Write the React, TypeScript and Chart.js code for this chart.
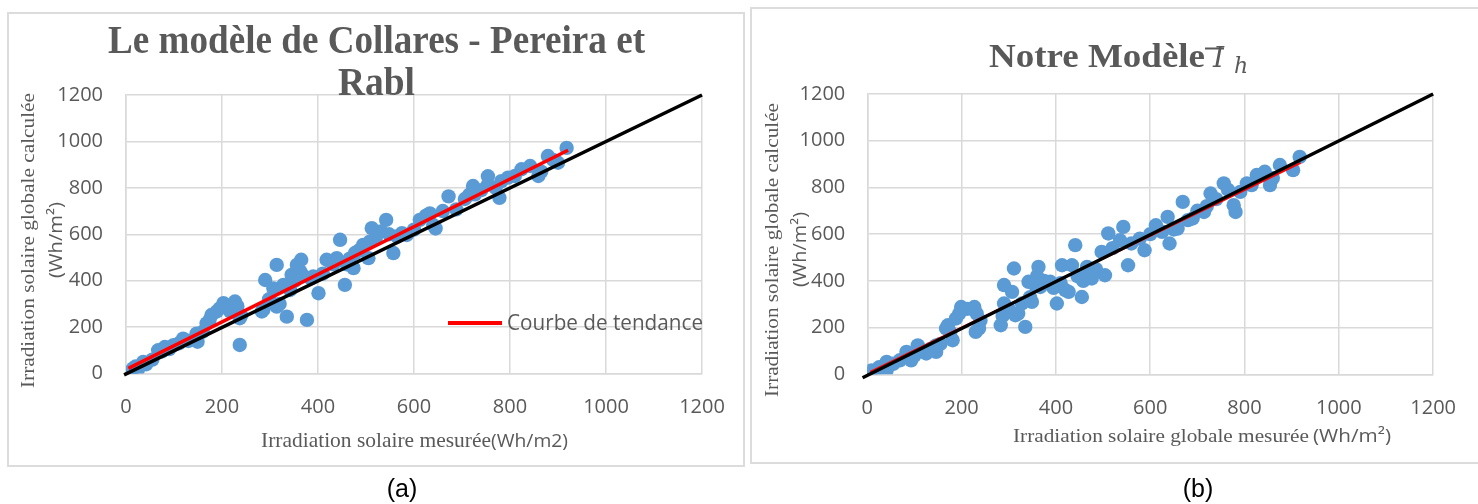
import React, { useEffect, useRef } from 'react';
import { Chart, registerables } from 'chart.js';

Chart.register(...registerables);

// ---------- Data ----------
const axisTicks = [0, 200, 400, 600, 800, 1000, 1200];

// Panel (a) : Collares-Pereira & Rabl
const measuredA = [8, 12, 15, 20, 25, 36, 42, 55, 67, 75, 81, 90, 99, 110, 119, 130, 147, 149, 160, 168, 174, 178, 189, 195, 203, 217, 227, 232, 237, 240, 237, 283, 286, 290, 298, 307, 314, 314, 320, 328, 335, 342, 345, 352, 356, 363, 365, 370, 377, 385, 390, 401, 410, 418, 425, 432, 439, 446, 456, 460, 466, 474, 477, 485, 494, 505, 508, 512, 520, 531, 542, 548, 557, 565, 575, 585, 600, 612, 625, 633, 640, 645, 660, 672, 688, 706, 715, 723, 727, 740, 754, 754, 770, 778, 782, 796, 810, 824, 842, 859, 865, 879, 890, 900, 918];
const calculatedA = [5, 12, 22, 30, 18, 50, 40, 60, 100, 95, 114, 105, 122, 130, 150, 140, 172, 137, 180, 216, 230, 252, 267, 280, 303, 267, 310, 290, 238, 250, 123, 267, 275, 403, 320, 367, 468, 288, 300, 382, 245, 360, 425, 400, 468, 440, 490, 420, 231, 410, 418, 346, 430, 490, 483, 470, 497, 576, 382, 470, 495, 454, 519, 530, 554, 497, 568, 626, 580, 612, 662, 600, 519, 590, 605, 597, 620, 662, 680, 690, 640, 625, 700, 763, 707, 752, 770, 808, 772, 790, 850, 814, 800, 757, 829, 844, 851, 880, 894, 851, 870, 937, 920, 908, 972];
const trendAx = [5, 921];
const trendAy = [22, 962];
const identityAx = [-4, 1200];
const identityAy = [-6, 1200];

// Panel (b) : Notre modèle
const measuredB = [6, 9, 15, 25, 41, 41, 55, 69, 83, 93, 100, 107, 115, 125, 135, 146, 146, 155, 167, 171, 176, 181, 188, 195, 199, 212, 227, 230, 237, 232, 240, 283, 287, 290, 290, 300, 307, 311, 314, 320, 328, 335, 342, 345, 349, 356, 360, 363, 367, 375, 388, 395, 402, 410, 413, 420, 427, 434, 441, 446, 455, 458, 466, 470, 476, 485, 497, 504, 511, 520, 536, 543, 553, 560, 578, 588, 600, 612, 625, 637, 641, 650, 658, 669, 680, 690, 700, 714, 720, 728, 740, 756, 765, 777, 781, 791, 805, 815, 826, 843, 854, 860, 875, 903, 917];
const calculatedB = [3, 17, 10, 30, 53, 17, 45, 60, 96, 60, 80, 124, 100, 89, 110, 96, 124, 130, 196, 210, 180, 146, 239, 260, 288, 280, 288, 182, 196, 260, 230, 210, 250, 382, 303, 280, 353, 453, 253, 260, 303, 203, 396, 330, 310, 382, 420, 460, 374, 400, 396, 370, 303, 390, 467, 360, 353, 467, 553, 420, 331, 400, 460, 430, 410, 450, 524, 424, 603, 540, 574, 631, 467, 560, 581, 531, 600, 638, 610, 674, 560, 620, 624, 738, 660, 667, 700, 695, 720, 774, 750, 817, 790, 724, 695, 781, 817, 810, 853, 867, 810, 840, 896, 874, 931];
const trendBx = [6, 919];
const trendBy = [10, 905];
const identityBx = [-10, 1200];
const identityBy = [-15, 1200];

// ---------- Styling ----------
const GRAY_TEXT = '#595959';
const GRID = '#d9d9d9';
const POINT = '#5b9bd5';
const W = 1478;
const H = 504;

const zip = (xs: number[], ys: number[]) => xs.map((x, i) => ({ x, y: ys[i] }));

const textPlugin = {
  id: 'freeTexts',
  afterDraw(chart: any, _args: any, opts: any) {
    const ctx = chart.ctx;
    (opts.items || []).forEach((t: any) => {
      ctx.save();
      ctx.font = t.font;
      ctx.fillStyle = t.color || GRAY_TEXT;
      ctx.textBaseline = 'alphabetic';
      ctx.textAlign = 'left';
      ctx.translate(t.x, t.y);
      if (t.rotate) ctx.rotate(t.rotate);
      const w = ctx.measureText(t.text).width;
      const sx = t.width ? t.width / w : 1;
      ctx.scale(sx, 1);
      ctx.fillText(t.text, 0, 0);
      ctx.restore();
    });
    (opts.lines || []).forEach((l: any) => {
      ctx.save();
      ctx.strokeStyle = l.color;
      ctx.lineWidth = l.width;
      ctx.beginPath();
      ctx.moveTo(l.x1, l.y1);
      ctx.lineTo(l.x2, l.y2);
      ctx.stroke();
      ctx.restore();
    });
  },
};

function makeConfig(p: any) {
  const yW = 90;
  const xH = 40;
  const tickFont = { family: 'Open Sans', size: 20 };
  return {
    type: 'scatter',
    data: {
      datasets: [
        {
          label: 'identity',
          data: zip(p.idx, p.idy),
          showLine: true,
          borderColor: '#000000',
          borderWidth: 3.5,
          pointRadius: 0,
          clip: false,
          order: 0,
        },
        {
          label: 'Courbe de tendance',
          data: zip(p.tx, p.ty),
          showLine: true,
          borderColor: '#ff0000',
          borderWidth: p.trendWidth,
          pointRadius: 0,
          order: 1,
        },
        {
          label: 'points',
          data: zip(p.xs, p.ys),
          backgroundColor: POINT,
          borderColor: POINT,
          borderWidth: 0,
          pointRadius: 7.2,
          order: 2,
        },
      ],
    },
    options: {
      responsive: false,
      animation: false,
      events: [],
      layout: {
        padding: {
          left: p.left - yW,
          right: W - p.right,
          top: p.top,
          bottom: H - p.bottom - xH,
        },
      },
      plugins: {
        legend: { display: false },
        tooltip: { enabled: false },
        title: { display: false },
        freeTexts: { items: p.texts, lines: p.lines },
      },
      scales: {
        x: {
          type: 'linear',
          min: 0,
          max: 1200,
          afterFit: (s: any) => { s.height = xH; },
          afterBuildTicks: (s: any) => { s.ticks = axisTicks.map((v) => ({ value: v })); },
          grid: { color: GRID, lineWidth: 1.5, drawTicks: false },
          border: { color: GRID, width: 1.5 },
          ticks: { color: GRAY_TEXT, font: tickFont, padding: 22, callback: (v: any) => String(v) },
        },
        y: {
          type: 'linear',
          min: 0,
          max: 1200,
          afterFit: (s: any) => { s.width = yW; },
          afterBuildTicks: (s: any) => { s.ticks = axisTicks.map((v) => ({ value: v })); },
          grid: { color: GRID, lineWidth: 1.5, drawTicks: false },
          border: { color: GRID, width: 1.5 },
          ticks: { color: GRAY_TEXT, font: tickFont, padding: p.yPad, callback: (v: any) => String(v) },
        },
      },
    },
    plugins: [textPlugin],
  };
}

const R90 = -Math.PI / 2;

const configA = makeConfig({
  left: 126, right: 702, top: 95, bottom: 373.5, yPad: 23, trendWidth: 3.5,
  xs: measuredA, ys: calculatedA, tx: trendAx, ty: trendAy, idx: identityAx, idy: identityAy,
  texts: [
    { text: 'Le modèle de Collares - Pereira et', x: 108, y: 52.7, width: 537, font: 'bold 39px "Liberation Serif"' },
    { text: 'Rabl', x: 338, y: 95, width: 77, font: 'bold 39px "Liberation Serif"' },
    { text: 'Irradiation solaire globale calculée', x: 34, y: 388, width: 295, rotate: R90, font: '18px "Liberation Serif"' },
    { text: '(Wh/m²)', x: 62, y: 278, width: 76, rotate: R90, font: '18px "Open Sans"' },
    { text: 'Irradiation solaire mesurée', x: 261, y: 447, width: 230, font: '21px "Liberation Serif"' },
    { text: '(Wh/m2)', x: 491, y: 447, width: 77, font: '19px "Open Sans"' },
    { text: 'Courbe de tendance', x: 507, y: 330, width: 196, font: '21px "Open Sans"' },
  ],
  lines: [{ x1: 448, y1: 323, x2: 502, y2: 323, color: '#ff0000', width: 4 }],
});

const configB = makeConfig({
  left: 867.3, right: 1437.3, top: 94, bottom: 374.3, yPad: 22, trendWidth: 2,
  xs: measuredB, ys: calculatedB, tx: trendBx, ty: trendBy, idx: identityBx, idy: identityBy,
  texts: [
    { text: 'Notre Modèle', x: 989, y: 66.7, width: 216, font: 'bold 33px "Liberation Serif"' },
    { text: 'I', x: 1213, y: 66.5, font: 'italic 28px "DejaVu Serif"' },
    { text: 'h', x: 1234, y: 73.3, font: 'italic 22px "DejaVu Serif"' },
    { text: 'Irradiation solaire globale calculée', x: 778, y: 397, width: 294, rotate: R90, font: '18px "Liberation Serif"' },
    { text: '(Wh/m²)', x: 806, y: 287, width: 75, rotate: R90, font: '18px "Open Sans"' },
    { text: 'Irradiation solaire globale mesurée', x: 1013, y: 442, width: 296, font: '19px "Liberation Serif"' },
    { text: '(Wh/m²)', x: 1313, y: 442, width: 78, font: '18px "Open Sans"' },
  ],
  lines: [{ x1: 1205, y1: 48.5, x2: 1224, y2: 48.5, color: GRAY_TEXT, width: 2 }],
});

function ChartCanvas({ config }: { config: any }) {
  const ref = useRef<HTMLCanvasElement | null>(null);
  useEffect(() => {
    if (!ref.current) return;
    const chart = new Chart(ref.current, config);
    return () => chart.destroy();
  }, [config]);
  return (
    <canvas
      ref={ref}
      width={W}
      height={H}
      style={{ position: 'absolute', left: 0, top: 0, width: W, height: H }}
    />
  );
}

export default function App() {
  return (
    <div style={{ position: 'fixed', left: 0, top: 0, width: W, height: H, background: '#ffffff', overflow: 'hidden' }}>
      <div style={{ position: 'absolute', left: 7, top: 12, width: 734, height: 451, border: '2px solid #dcdcdc' }} />
      <div style={{ position: 'absolute', left: 750, top: 7, width: 740, height: 453, border: '2px solid #dcdcdc' }} />
      <ChartCanvas config={configA} />
      <ChartCanvas config={configB} />
      <div style={{ position: 'absolute', left: 402, top: 474, transform: 'translateX(-50%)', fontFamily: '"Liberation Sans", Arial, sans-serif', fontSize: 25, lineHeight: '28px', color: '#000' }}>(a)</div>
      <div style={{ position: 'absolute', left: 1198, top: 474, transform: 'translateX(-50%)', fontFamily: '"Liberation Sans", Arial, sans-serif', fontSize: 25, lineHeight: '28px', color: '#000' }}>(b)</div>
    </div>
  );
}
